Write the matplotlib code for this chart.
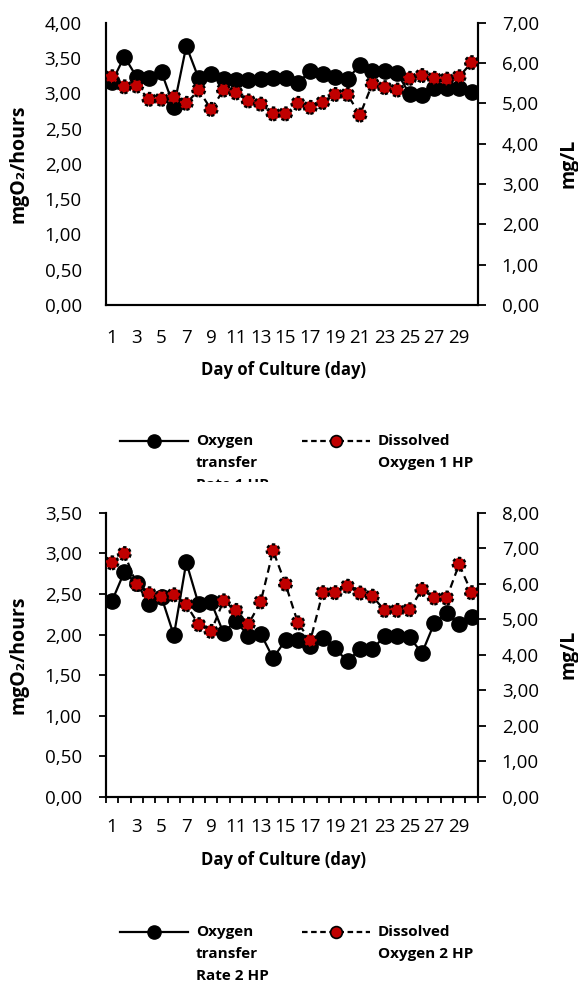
import matplotlib
matplotlib.use("Agg")
import matplotlib.pyplot as plt
import numpy as np
from matplotlib.lines import Line2D
from matplotlib.patches import Rectangle

plt.rcParams['font.family'] = ['Open Sans', 'DejaVu Sans']

days = list(range(1, 31))
tick_days = list(range(1, 31, 2))

otr_1hp = [3.16, 3.52, 3.23, 3.21, 3.30, 2.81, 3.67, 3.21, 3.27, 3.20,
           3.19, 3.19, 3.20, 3.21, 3.21, 3.15, 3.31, 3.27, 3.23, 3.20,
           3.40, 3.32, 3.31, 3.29, 2.99, 2.97, 3.08, 3.08, 3.07, 3.02]
do_1hp = [5.66, 5.41, 5.43, 5.10, 5.10, 5.15, 5.00, 5.33, 4.85, 5.33,
          5.26, 5.06, 4.98, 4.74, 4.74, 5.00, 4.90, 5.02, 5.22, 5.22,
          4.71, 5.48, 5.39, 5.33, 5.62, 5.69, 5.62, 5.60, 5.66, 6.01]
otr_2hp = [2.41, 2.77, 2.63, 2.38, 2.46, 1.99, 2.89, 2.37, 2.40, 2.02,
           2.17, 1.98, 2.01, 1.71, 1.93, 1.93, 1.86, 1.96, 1.83, 1.67,
           1.82, 1.82, 1.98, 1.98, 1.97, 1.77, 2.14, 2.26, 2.13, 2.21]
do_2hp = [6.59, 6.85, 5.98, 5.72, 5.63, 5.69, 5.41, 4.85, 4.66, 5.52,
          5.25, 4.86, 5.49, 6.93, 5.99, 4.90, 4.40, 5.75, 5.75, 5.93,
          5.74, 5.65, 5.25, 5.25, 5.27, 5.84, 5.60, 5.60, 6.55, 5.75]

left_label = "mgO₂/hours"
right_label = "mg/L"
x_label = "Day of Culture (day)"
legend_labels_1 = ["Oxygen\ntransfer\nRate 1 HP", "Dissolved\nOxygen 1 HP"]
legend_labels_2 = ["Oxygen\ntransfer\nRate 2 HP", "Dissolved\nOxygen 2 HP"]

W, H = 578, 984
fig = plt.figure(figsize=(W / 100, H / 100), dpi=100)

def fmt(v):
    return f"{v:.2f}".replace('.', ',')

TICK_FS = 13.5
XLAB_FS = 12
YLAB_FS = 14
LEG_FS = 11

def make_panel(top_px, bottom_px, otr, do, lmax, rmax, left_ticks, xticks_marks,
               xpad, xlab_y):
    left_px, right_px = 105.7, 477.7
    ax = fig.add_axes([left_px / W, 1 - bottom_px / H, (right_px - left_px) / W,
                       (bottom_px - top_px) / H])
    ax2 = ax.twinx()
    ax.plot(days, otr, color='black', lw=1.6, marker='o', ms=11,
            markerfacecolor='black', markeredgecolor='black', zorder=3)
    ax2.plot(days, do, color='black', lw=1.6, ls=(0, (3.5, 2.2)), zorder=2)
    ax2.scatter(days, do, s=85, color='#c00000', edgecolors='black',
                linewidths=1.6, linestyles=(0, (1.5, 1.2)), zorder=3)
    ax.set_xlim(0.5, 30.5)
    ax.set_ylim(0, lmax)
    ax2.set_ylim(0, rmax)
    lt = np.arange(0, lmax + 1e-9, 0.5)
    rt = np.arange(0, rmax + 1e-9, 1.0)
    ax.set_yticks(lt)
    ax.set_yticklabels([fmt(v) for v in lt], fontsize=TICK_FS)
    ax2.set_yticks(rt)
    ax2.set_yticklabels([fmt(v) for v in rt], fontsize=TICK_FS)
    ax.set_xticks(tick_days)
    ax.set_xticklabels([str(d) for d in tick_days], fontsize=TICK_FS)
    if left_ticks:
        ax.tick_params(axis='y', length=5, width=1.3, pad=12.2)
    else:
        ax.tick_params(axis='y', length=0, pad=17.3)
    ax2.tick_params(axis='y', length=5.8, width=1.3, pad=11.5)
    if xticks_marks:
        ax.set_xticks(np.arange(0.5, 31, 1.0), minor=True)
        ax.tick_params(axis='x', which='minor', length=4, width=1.3)
    ax.tick_params(axis='x', which='major', length=0, pad=xpad)
    for a in (ax, ax2):
        for s in a.spines.values():
            s.set_linewidth(1.5)
        a.spines['top'].set_visible(False)
    ax.set_ylabel(left_label, fontsize=YLAB_FS, fontweight='bold')
    ax.yaxis.set_label_coords(-0.2075, 0.5)
    ax2.set_ylabel(right_label, fontsize=YLAB_FS, fontweight='bold')
    ax2.yaxis.set_label_coords(1.216, 0.5)
    ax.set_xlabel(x_label, fontsize=XLAB_FS, fontweight='bold')
    ax.xaxis.set_label_coords(0.477, xlab_y)
    return ax, ax2

make_panel(22.7, 305, otr_1hp, do_1hp, 4.0, 7.0, False, False, 17, -0.198)
make_panel(512.7, 797, otr_2hp, do_2hp, 3.5, 8.0, True, True, 15, -0.19)

def legend_block(y_px, labels):
    y = 1 - y_px / H
    tr = fig.transFigure
    fig.add_artist(Line2D([120 / W, 188 / W], [y, y], transform=tr, color='black', lw=1.6))
    fig.add_artist(Line2D([154 / W], [y], transform=tr, marker='o', ms=9.5,
                          color='black', lw=0))
    fig.add_artist(Line2D([302 / W, 370 / W], [y, y], transform=tr, color='black',
                          lw=1.6, ls=(0, (2.5, 1.6))))
    fig.add_artist(Line2D([336 / W], [y], transform=tr, marker='o', ms=8.5,
                          markerfacecolor='#c00000', markeredgecolor='black',
                          markeredgewidth=1.2, lw=0))
    fig.text(196 / W, 1 - (y_px - 7) / H, labels[0], fontsize=LEG_FS,
             fontweight='bold', va='top', ha='left', linespacing=1.72)
    fig.text(378 / W, 1 - (y_px - 7) / H, labels[1], fontsize=LEG_FS,
             fontweight='bold', va='top', ha='left', linespacing=1.72)

legend_block(441, legend_labels_1)
legend_block(932, legend_labels_2)

# the first legend's third line is cut off by the second chart's frame
fig.add_artist(Rectangle((0, 1 - 500 / H), 1, 18 / H, transform=fig.transFigure,
                         facecolor='white', edgecolor='none', zorder=10))

fig.savefig("out.png", dpi=100)
